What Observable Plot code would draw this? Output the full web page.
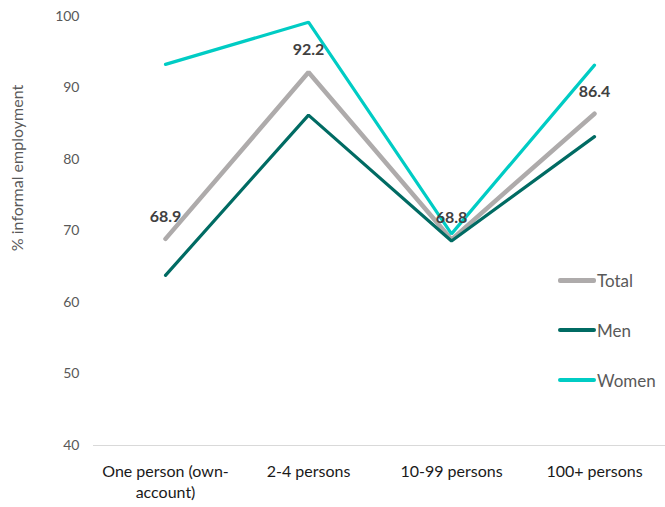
<!DOCTYPE html>
<html>
<head>
<meta charset="utf-8">
<script src="https://cdn.jsdelivr.net/npm/d3@7"></script>
<script src="https://cdn.jsdelivr.net/npm/@observablehq/plot@0.6"></script>
<style>
  html, body { margin: 0; padding: 0; background: #fff; }
  #wrap { position: relative; width: 665px; height: 507px; font-family: Lato, "Open Sans", sans-serif; }
  #legend { position: absolute; left: 558px; top: 269px; font-size: 17px; color: #595959; }
  #legend .item { display: flex; align-items: center; height: 22px; margin-bottom: 28px; }
  #legend .sw { width: 38px; height: 4px; border-radius: 2px; margin-right: 1px; }
  #ylabel { position: absolute; left: 16px; top: 168px; transform: translate(-50%,-50%) rotate(-90deg); font-size: 16px; color: #595959; white-space: nowrap; }
</style>
</head>
<body>
<div id="wrap">
  <div id="chart"></div>
  <div id="legend"></div>
</div>
<script>
const categories = ["One person (own-account)", "2-4 persons", "10-99 persons", "100+ persons"];
const tickLabels = ["One person (own-\naccount)", "2-4 persons", "10-99 persons", "100+ persons"];
const seriesNames = ["Total", "Men", "Women"];
const totalValues = [68.9, 92.2, 68.8, 86.4];
const menValues = [63.8, 86.2, 68.6, 83.2];
const womenValues = [93.3, 99.2, 69.6, 93.2];
const yTicks = [40, 50, 60, 70, 80, 90, 100];
const colors = {Total: "#AEABAB", Men: "#006B63", Women: "#00CCC4"};
const widths = {Total: 4.5, Men: 3.2, Women: 3.2};

const rows = [];
[totalValues, menValues, womenValues].forEach((vals, si) => {
  vals.forEach((v, i) => rows.push({series: seriesNames[si], category: categories[i], value: v}));
});
const totalRows = rows.filter(d => d.series === "Total");

const font = "Lato, 'Open Sans', sans-serif";
const lineMarks = ["Total", "Men", "Women"].map(s =>
  Plot.line(rows.filter(d => d.series === s), {
    x: "category", y: "value", stroke: colors[s], strokeWidth: widths[s], strokeLinejoin: "miter", strokeLinecap: "round"
  })
);

const chart = Plot.plot({
  width: 665,
  height: 507,
  marginLeft: 93,
  marginRight: 0,
  marginTop: 16,
  marginBottom: 62,
  style: {fontFamily: font, background: "#fff"},
  x: {type: "point", domain: categories, padding: 0.5},
  y: {domain: [40, 100]},
  marks: [
    Plot.axisY({ticks: yTicks, tickSize: 0, tickPadding: 14, fontSize: 14, color: "#595959", label: null}),
    Plot.axisX({tickSize: 0, tickPadding: 16, fontSize: 16, color: "#1a1a1a", label: null, lineHeight: 1.35,
      tickFormat: (d, i) => tickLabels[categories.indexOf(d)]}),
    Plot.ruleY([40], {stroke: "#D9D9D9", strokeWidth: 1.2}),
    ...lineMarks,
    Plot.text(totalRows, {x: "category", y: "value", text: d => d.value.toFixed(1), dy: -22,
      fontSize: 16, fontWeight: "bold", fill: "#404040"})
  ]
});
document.getElementById("chart").appendChild(chart);

const legend = document.getElementById("legend");
seriesNames.forEach(s => {
  const item = document.createElement("div");
  item.className = "item";
  item.innerHTML = `<span class="sw" style="background:${colors[s]};height:${s === "Total" ? 5 : 4}px"></span><span>${s}</span>`;
  legend.appendChild(item);
});
const yl = document.createElement("div");
yl.id = "ylabel";
yl.textContent = "% informal employment";
document.getElementById("wrap").appendChild(yl);
</script>
</body>
</html>
